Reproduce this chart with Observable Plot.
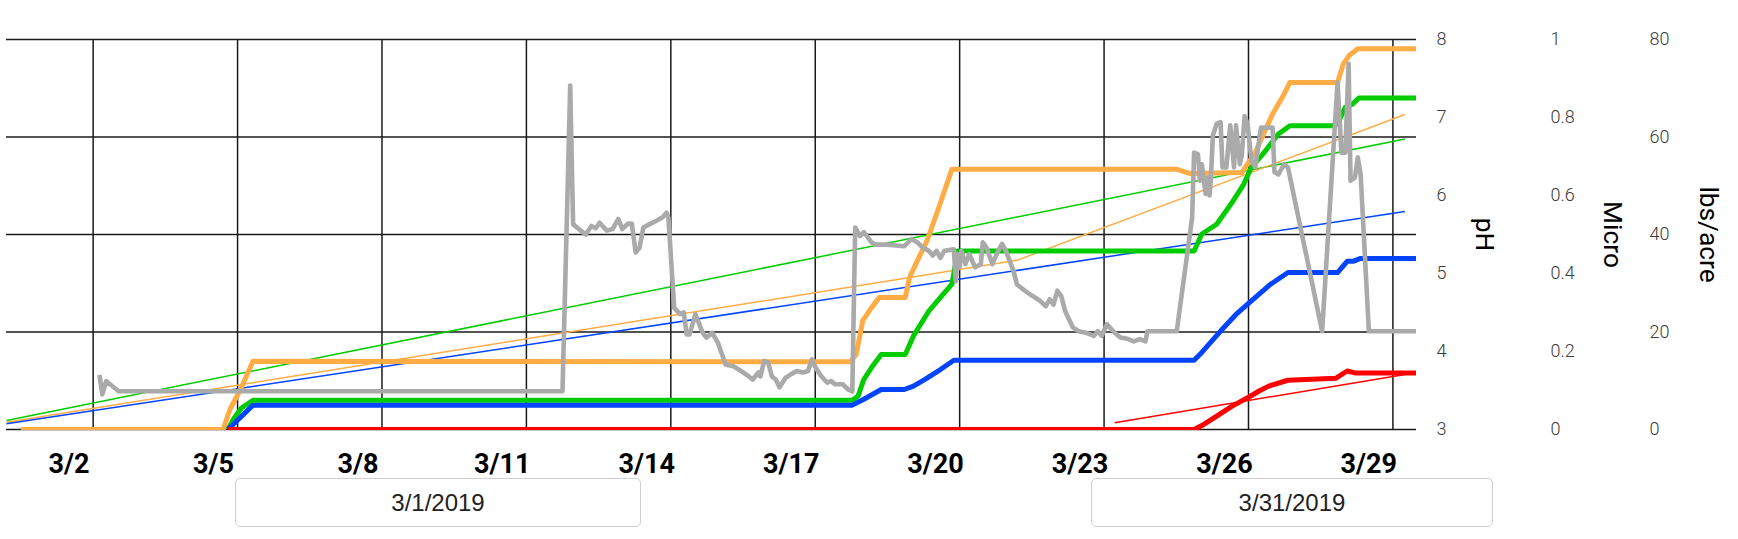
<!DOCTYPE html>
<html><head><meta charset="utf-8">
<script src="https://cdn.jsdelivr.net/npm/d3@7"></script>
<script src="https://cdn.jsdelivr.net/npm/@observablehq/plot@0.6"></script>
<style>
html,body{margin:0;padding:0;background:#fff;}
#wrap{position:relative;width:1738px;height:539px;overflow:hidden;background:#fff;}
#wrap svg{position:absolute;left:0;top:0;}
.box{position:absolute;top:478px;height:49px;border:1.5px solid #cfcfcf;border-radius:5px;box-sizing:border-box;
  font:24px "Liberation Sans",Arial,sans-serif;color:#222;display:flex;align-items:center;justify-content:center;background:#fff;}
</style></head><body><div id="wrap"></div>
<script>
// ---- axis ticks / labels ----
const tickDays = [2, 5, 8, 11, 14, 17, 20, 23, 26, 29];
const tickLabels = ["3/2", "3/5", "3/8", "3/11", "3/14", "3/17", "3/20", "3/23", "3/26", "3/29"];
const gridDays = [2.5, 5.5, 8.5, 11.5, 14.5, 17.5, 20.5, 23.5, 26.5, 29.5];
const lbsTicks = [0, 20, 40, 60, 80];
const phTicks = [3, 4, 5, 6, 7, 8];
const microTicks = [0, 0.2, 0.4, 0.6, 0.8, 1];
const axisTitles = ["pH", "Micro", "lbs/acre"];
const rangeLabels = ["3/1/2019", "3/31/2019"];

// ---- series: [day of March, value] ----
// pH (grey)
const phSeries = [[2.63,3.70],[2.69,3.45],[2.77,3.62],[2.89,3.56],[3.03,3.49],[12.25,3.49],[12.41,7.41],[12.47,5.63],[12.73,5.50],[12.85,5.61],[12.94,5.58],[13.02,5.65],[13.17,5.55],[13.29,5.57],[13.41,5.70],[13.49,5.57],[13.61,5.64],[13.69,5.64],[13.77,5.27],[13.85,5.33],[13.93,5.59],[14.05,5.63],[14.21,5.68],[14.33,5.72],[14.41,5.78],[14.45,5.72],[14.57,4.56],[14.69,4.48],[14.77,4.50],[14.83,4.22],[14.89,4.22],[15.01,4.48],[15.16,4.24],[15.24,4.18],[15.36,4.24],[15.48,4.11],[15.64,3.83],[15.80,3.81],[15.96,3.75],[16.12,3.68],[16.20,3.64],[16.32,3.73],[16.36,3.68],[16.44,3.88],[16.52,3.86],[16.60,3.68],[16.68,3.64],[16.76,3.54],[16.88,3.66],[17.0,3.71],[17.12,3.75],[17.24,3.73],[17.35,3.75],[17.43,3.90],[17.51,3.79],[17.63,3.68],[17.75,3.60],[17.83,3.62],[17.91,3.58],[18.07,3.58],[18.19,3.51],[18.27,3.49],[18.33,5.59],[18.43,5.48],[18.51,5.53],[18.67,5.40],[18.75,5.37],[18.99,5.37],[19.35,5.35],[19.50,5.44],[19.62,5.40],[19.74,5.33],[19.86,5.29],[19.94,5.23],[20.02,5.29],[20.10,5.20],[20.18,5.29],[20.38,5.31],[20.42,4.90],[20.46,5.25],[20.50,5.08],[20.54,5.29],[20.62,5.12],[20.70,5.25],[20.82,5.08],[20.94,5.12],[20.98,5.40],[21.06,5.33],[21.18,5.12],[21.30,5.29],[21.38,5.38],[21.46,5.29],[21.61,5.05],[21.69,4.86],[21.85,4.78],[21.97,4.73],[22.17,4.65],[22.29,4.58],[22.37,4.67],[22.45,4.60],[22.53,4.78],[22.61,4.71],[22.69,4.52],[22.85,4.31],[22.97,4.26],[23.13,4.24],[23.29,4.20],[23.37,4.26],[23.45,4.20],[23.56,4.35],[23.72,4.24],[23.84,4.18],[24.0,4.16],[24.12,4.13],[24.24,4.16],[24.36,4.13],[24.40,4.26],[25.01,4.26],[25.33,5.72],[25.37,6.55],[25.45,6.53],[25.49,6.19],[25.53,6.40],[25.61,6.02],[25.65,6.23],[25.69,6.0],[25.72,6.23],[25.76,6.77],[25.84,6.92],[25.92,6.94],[25.96,6.36],[26.04,6.36],[26.12,6.90],[26.2,6.36],[26.24,6.90],[26.32,6.40],[26.36,6.51],[26.42,7.02],[26.48,6.92],[26.56,6.45],[26.64,6.36],[26.76,6.87],[26.88,6.87],[27.0,6.87],[27.04,6.30],[27.12,6.27],[27.24,6.40],[27.32,6.36],[28.03,4.26],[28.35,7.45],[28.43,6.55],[28.51,6.55],[28.58,7.69],[28.62,6.19],[28.71,6.23],[28.77,6.49],[28.83,6.27],[29.0,4.26],[29.99,4.26]];
// lbs/acre series
const orangeSeries = [[1.0,0],[5.2,0],[5.34,4.1],[5.58,8.6],[5.82,14.0],[18.23,13.9],[18.35,15.4],[18.49,22.4],[18.67,25.0],[18.83,27.1],[19.37,27.1],[19.46,31.2],[19.62,34.6],[19.82,38.7],[20.02,44.2],[20.34,53.4],[25.0,53.4],[25.29,52.5],[26.36,52.7],[26.64,56.8],[27.0,64.7],[27.2,68.1],[27.36,71.2],[28.35,71.2],[28.47,75.0],[28.59,76.7],[28.77,78.1],[29.99,78.1]];
const greenSeries = [[5.30,0],[5.42,2.2],[5.58,4.4],[5.82,6.0],[18.27,6.0],[18.39,6.85],[18.51,10.3],[18.67,12.7],[18.87,15.4],[19.37,15.4],[19.54,19.2],[19.86,24.3],[20.10,27.1],[20.34,29.8],[20.46,36.6],[25.37,36.6],[25.53,40.1],[25.84,42.1],[26.16,46.6],[26.40,50.3],[26.56,53.8],[26.8,56.5],[27.12,60.6],[27.36,62.3],[28.23,62.3],[28.35,62.7],[28.51,66.1],[28.67,66.8],[28.79,68.0],[29.99,68.0]];
const blueSeries = [[5.30,0],[5.82,5.0],[18.27,5.0],[18.51,6.2],[18.87,8.2],[19.35,8.2],[19.54,8.9],[19.78,10.3],[20.1,12.3],[20.38,14.2],[25.37,14.2],[25.53,15.8],[25.92,20.2],[26.24,23.6],[26.56,26.4],[26.96,29.8],[27.32,32.2],[28.35,32.2],[28.55,34.5],[28.67,34.5],[28.83,35.1],[29.99,35.1]];
const redSeries = [[5.30,0],[25.37,0],[25.57,1.03],[25.84,2.74],[26.16,4.8],[26.48,6.5],[26.72,7.9],[26.92,8.9],[27.32,10.1],[28.31,10.5],[28.55,12.0],[28.71,11.6],[29.99,11.6]];
// trend lines
const greenTrend = [[0.70,1.85],[29.75,59.6]];
const blueTrend = [[0.70,1.16],[29.75,44.7]];
const orangeTrend = [[0.70,1.5],[21.69,34.7],[29.75,64.6]];
const redTrend = [[23.72,1.37],[29.75,11.3]];

const C = {orange:"#ffac45", green:"#00cc00", blue:"#0044ff", red:"#ff0000", grey:"#aaaaaa", grid:"#1a1a1a"};
const phToLbs = v => (v - 3) * 16;
const microToLbs = v => v * 80;
const tickFont = "Roboto, sans-serif";

const line = (data, stroke, w, f = v => v) =>
  Plot.line(data, {x: d => d[0], y: d => f(d[1]), stroke, strokeWidth: w, strokeLinejoin: "round",
    strokeLinecap: "butt", clip: "frame"});

const title = (t, dx) => Plot.text([t], {frameAnchor: "right", dx, rotate: 90, text: d => d,
  textAnchor: "middle", lineAnchor: "middle", fontFamily: tickFont, fontSize: 26.3, fill: "#000"});

const chart = Plot.plot({
  width: 1738, height: 539,
  marginLeft: 6, marginRight: 322, marginTop: 38, marginBottom: 109,
  x: {domain: [0.70, 29.99], axis: null},
  y: {domain: [0, 80], range: [429, 39], axis: null},
  style: {background: "transparent", overflow: "visible"},
  marks: [
    Plot.ruleY(lbsTicks, {stroke: C.grid, strokeWidth: 1.5}),
    Plot.ruleX(gridDays, {y1: 0, y2: 80, stroke: C.grid, strokeWidth: 1.5}),
    line(greenTrend, C.green, 1.5),
    line(orangeTrend, C.orange, 1.5),
    line(blueTrend, C.blue, 1.5),
    line(redTrend, C.red, 1.5),
    line(orangeSeries, C.orange, 5),
    line(greenSeries, C.green, 5),
    line(blueSeries, C.blue, 5),
    line(redSeries, C.red, 5),
    line(phSeries, C.grey, 4.6, phToLbs),
    Plot.text(tickDays, {x: d => d, y: 0, text: (d, i) => tickLabels[i], dy: 34.5,
      fontFamily: tickFont, fontWeight: 700, fontSize: 27, fill: "#000"}),
    Plot.text(phTicks, {y: phToLbs, text: d => String(d), frameAnchor: "right", dx: 20, textAnchor: "start",
      fontFamily: tickFont, fontWeight: 300, fontSize: 18, fill: "#3a3a3a"}),
    Plot.text(microTicks, {y: microToLbs, text: d => String(d), frameAnchor: "right", dx: 134, textAnchor: "start",
      fontFamily: tickFont, fontWeight: 300, fontSize: 18, fill: "#3a3a3a"}),
    Plot.text(lbsTicks, {y: d => d, text: d => String(d), frameAnchor: "right", dx: 233, textAnchor: "start",
      fontFamily: tickFont, fontWeight: 300, fontSize: 18, fill: "#3a3a3a"}),
    title(axisTitles[0], 68),
    title(axisTitles[1], 196),
    title(axisTitles[2], 292)
  ]
});
const wrap = document.getElementById("wrap");
wrap.appendChild(chart);
const boxPos = [[235, 406], [1091, 402]];
rangeLabels.forEach((t, i) => {
  const b = document.createElement("div");
  b.className = "box";
  b.style.left = boxPos[i][0] + "px";
  b.style.width = boxPos[i][1] + "px";
  b.textContent = t;
  wrap.appendChild(b);
});
</script></body></html>
